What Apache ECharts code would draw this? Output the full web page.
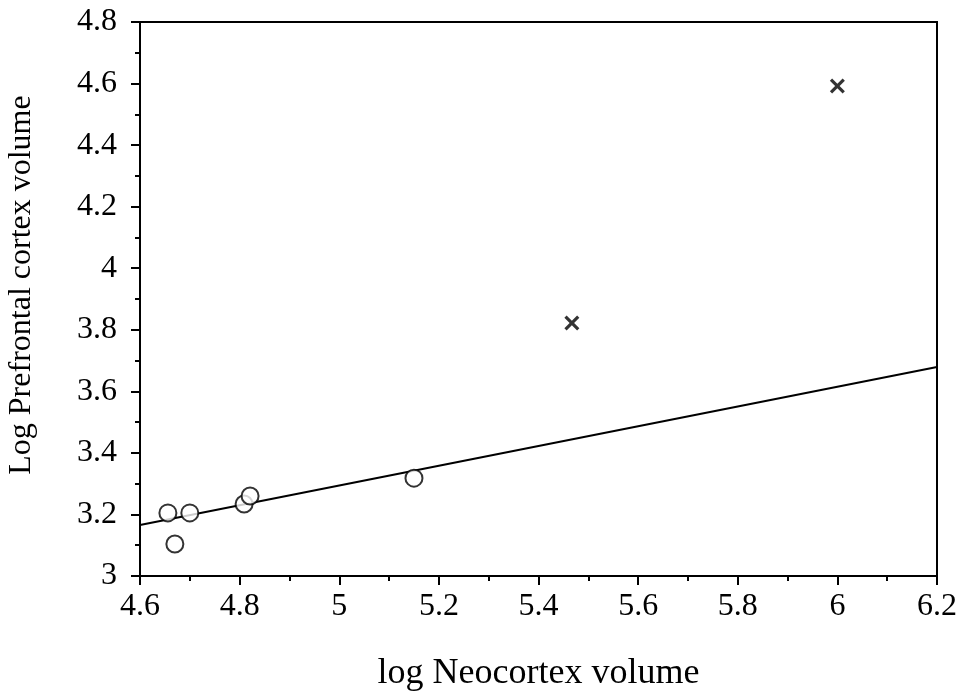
<!DOCTYPE html>
<html>
<head>
<meta charset="utf-8">
<script src="https://cdn.jsdelivr.net/npm/echarts@6/dist/echarts.min.js"></script>
<style>
    html, body { margin: 0; padding: 0; background: #fff; }
    #chart { width: 966px; height: 693px; }
</style>
</head>
<body>
<div id="chart"></div>
<script>
;
(function () {

    // open circles
    var circleX = [4.656, 4.670, 4.700, 4.809, 4.821, 5.150];
    var circleY = [3.205, 3.104, 3.205, 3.234, 3.260, 3.318];
    // crosses
    var crossX = [5.467, 6.000];
    var crossY = [3.822, 4.592];
    // regression line ends
    var fitX = [4.6, 6.2];
    var fitY = [3.166, 3.679];

    var pair = function (xs, ys) {
        return xs.map(function (x, i) { return [x, ys[i]]; });
    };

    var font = "'Liberation Serif', 'DejaVu Serif', serif";
    var crossPath = 'path://M3,0 L10,7 L17,0 L20,3 L13,10 L20,17 L17,20 L10,13 L3,20 L0,17 L7,10 L0,3 Z';
    var fmt = function (v) { return String(+v.toFixed(1)); };

    var option = {
        animation: false,
        grid: {
            left: 140,
            right: 29,
            top: 22,
            bottom: 117,
            outerBoundsMode: 'none',
            show: true,
            borderColor: '#000',
            borderWidth: 2
        },
        xAxis: {
            type: 'value',
            min: 4.6,
            max: 6.2,
            interval: 0.2,
            name: 'log Neocortex volume',
            nameLocation: 'middle',
            nameGap: 80,
            nameTextStyle: { fontFamily: font, fontSize: 36, color: '#000' },
            axisLine: { lineStyle: { color: '#000', width: 2 } },
            axisTick: { inside: false, length: 9, lineStyle: { color: '#000', width: 2 } },
            minorTick: { show: true, splitNumber: 2, length: 5, lineStyle: { color: '#000', width: 2 } },
            splitLine: { show: false },
            axisLabel: { fontFamily: font, fontSize: 32, color: '#000', margin: 15, formatter: fmt }
        },
        yAxis: {
            type: 'value',
            min: 3,
            max: 4.8,
            interval: 0.2,
            name: 'Log Prefrontal cortex volume',
            nameLocation: 'middle',
            nameGap: 102,
            nameTextStyle: { fontFamily: font, fontSize: 32, color: '#000', padding: [0, 0, 0, 28] },
            axisLine: { lineStyle: { color: '#000', width: 2 } },
            axisTick: { inside: false, length: 9, lineStyle: { color: '#000', width: 2 } },
            minorTick: { show: true, splitNumber: 2, length: 5, lineStyle: { color: '#000', width: 2 } },
            splitLine: { show: false },
            axisLabel: { fontFamily: font, fontSize: 32, color: '#000', margin: 23, formatter: fmt }
        },
        series: [
            {
                type: 'line',
                data: pair(fitX, fitY),
                showSymbol: false,
                lineStyle: { color: '#000', width: 2 },
                z: 1
            },
            {
                type: 'scatter',
                data: pair(circleX, circleY),
                symbol: 'circle',
                symbolSize: 17,
                itemStyle: { color: '#fff', borderColor: '#000', borderWidth: 2 },
                z: 3
            },
            {
                type: 'scatter',
                data: pair(crossX, crossY),
                symbol: crossPath,
                symbolSize: 15,
                itemStyle: { color: '#000' },
                z: 3
            }
        ]
    };

    var myChart = echarts.init(document.getElementById('chart'));
    myChart.setOption(option);

})();
</script>
</body>
</html>
